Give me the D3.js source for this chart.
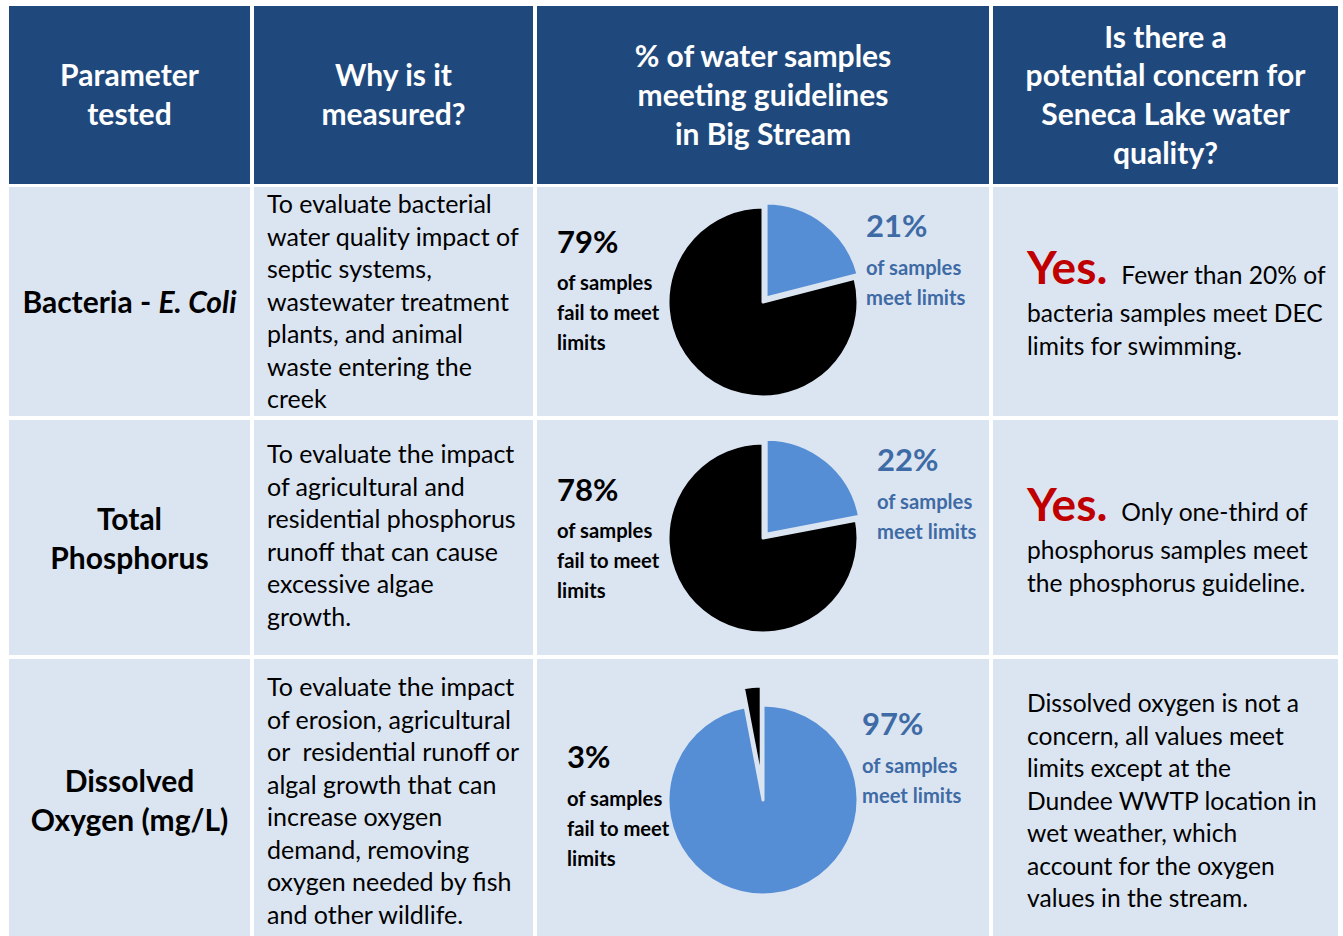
<!DOCTYPE html>
<html>
<head>
<meta charset="utf-8">
<script src="https://cdn.jsdelivr.net/npm/d3@7"></script>
<style>
  html, body { margin: 0; padding: 0; background: #fff; }
  svg { display: block; font-family: Lato, "Open Sans", sans-serif; }
  text { white-space: pre; }
</style>
</head>
<body>
<svg id="chart" width="1343" height="936"></svg>
<script>
// ---- data ----
const headers = [
    ["Parameter", "tested"],
    ["Why is it", "measured?"],
    ["% of water samples", "meeting guidelines", "in Big Stream"],
    ["Is there a", "potential concern for", "Seneca Lake water", "quality?"]
];
const parameters = [
    [[{t: "Bacteria - "}, {t: "E. Coli", it: true}]],
    [[{t: "Total"}], [{t: "Phosphorus"}]],
    [[{t: "Dissolved"}], [{t: "Oxygen (mg/L)"}]]
];
const reasons = [
    ["To evaluate bacterial", "water quality impact of", "septic systems,",
     "wastewater treatment", "plants, and animal", "waste entering the", "creek"],
    ["To evaluate the impact", "of agricultural and", "residential phosphorus",
     "runoff that can cause", "excessive algae", "growth."],
    ["To evaluate the impact", "of erosion, agricultural", "or  residential runoff or",
     "algal growth that can", "increase oxygen", "demand, removing",
     "oxygen needed by fish", "and other wildlife."]
];
const meetPct = [21, 22, 97];
const failPct = [79, 78, 3];
const verdicts = ["Yes.", "Yes.", ""];
const concerns = [
    ["Fewer than 20% of", "bacteria samples meet DEC", "limits for swimming."],
    ["Only one-third of", "phosphorus samples meet", "the phosphorus guideline."],
    ["Dissolved oxygen is not a", "concern, all values meet", "limits except at the",
     "Dundee WWTP location in", "wet weather, which", "account for the oxygen",
     "values in the stream."]
];

// ---- layout ----
const cols = [[9, 250], [254, 533], [537, 989], [993, 1338]];
const rows = [[6, 184], [187, 416], [420, 655], [659, 940]];
const headBg = "#1F497D", cellBg = "#DBE5F1";
const blue = "#558ED5", blueText = "#3E6BA5", red = "#C00000";
const bodySize = 25, noteSize = 24.6, headSize = 30;

const svg = d3.select("#chart");

// cells
rows.forEach((r, ri) => {
    cols.forEach((c, ci) => {
        svg.append("rect")
            .attr("x", c[0]).attr("y", r[0])
            .attr("width", c[1] - c[0]).attr("height", r[1] - r[0])
            .attr("fill", ri === 0 ? headBg : cellBg);
    });
});

// header text
const headBase = [[86, 125], [86, 125], [67, 106, 145], [48, 86, 125, 164]];
headers.forEach((lines, ci) => {
    const cx = (cols[ci][0] + cols[ci][1]) / 2;
    svg.append("g").selectAll("text")
        .data(lines)
        .join("text")
        .attr("x", cx)
        .attr("y", (d, i) => headBase[ci][i])
        .attr("text-anchor", "middle")
        .attr("fill", "#fff")
        .attr("font-weight", 700)
        .attr("font-size", headSize)
        .text(d => d);
});

// parameter names
const paramBase = [[313], [530, 569], [792, 831]];
parameters.forEach((lines, ri) => {
    const cx = (cols[0][0] + cols[0][1]) / 2;
    lines.forEach((parts, li) => {
        const t = svg.append("text")
            .attr("x", cx).attr("y", paramBase[ri][li])
            .attr("text-anchor", "middle")
            .attr("font-weight", 700)
            .attr("font-size", headSize)
            .attr("fill", "#000");
        parts.forEach(p => {
            t.append("tspan")
                .attr("font-style", p.it ? "italic" : null)
                .text(p.t);
        });
    });
});

// reasons
const reasonTop = [213, 463, 696];
reasons.forEach((lines, ri) => {
    svg.append("g").selectAll("text")
        .data(lines)
        .join("text")
        .attr("x", 267)
        .attr("y", (d, i) => reasonTop[ri] + i * 32.5)
        .attr("font-size", bodySize)
        .attr("fill", "#000")
        .text(d => d);
});

// pies
const pieCenters = [[763, 302], [763, 538], [763, 800]];
const explodeBy = [5, 5, 19];
const radius = 95;
const pie = d3.pie().sort(null).value(d => d.v);
const arc = d3.arc().innerRadius(0).outerRadius(radius);

meetPct.forEach((m, ri) => {
    const slices = pie([{k: "meet", v: m}, {k: "fail", v: failPct[ri]}]);
    const g = svg.append("g")
        .attr("transform", `translate(${pieCenters[ri][0]},${pieCenters[ri][1]})`);
    const small = m < failPct[ri] ? "meet" : "fail";
    g.selectAll("path")
        .data(slices)
        .join("path")
        .attr("d", arc)
        .attr("fill", d => d.data.k === "meet" ? blue : "#000")
        .attr("stroke", cellBg)
        .attr("stroke-width", 3)
        .attr("stroke-linejoin", "round")
        .attr("transform", d => {
            if (d.data.k !== small) return null;
            const a = (d.startAngle + d.endAngle) / 2;
            return `translate(${Math.sin(a) * explodeBy[ri]},${-Math.cos(a) * explodeBy[ri]})`;
        });
});

// pie labels
const failLabelPos = [[557, 253], [557, 501], [567, 768]];
const meetLabelPos = [[866, 237], [877, 471], [862, 735]];
const subGap = [37, 37, 38];

function pieLabel(pos, pct, lines, color, gap) {
    svg.append("text")
        .attr("x", pos[0]).attr("y", pos[1])
        .attr("font-weight", 700).attr("font-size", 31)
        .attr("fill", color)
        .text(pct + "%");
    svg.append("g").selectAll("text")
        .data(lines)
        .join("text")
        .attr("x", pos[0])
        .attr("y", (d, i) => pos[1] + gap + i * 30)
        .attr("font-weight", 700).attr("font-size", 20.2)
        .attr("fill", color)
        .text(d => d);
}
failPct.forEach((f, ri) => {
    pieLabel(failLabelPos[ri], f, ["of samples", "fail to meet", "limits"], "#000", subGap[ri]);
    pieLabel(meetLabelPos[ri], meetPct[ri], ["of samples", "meet limits"], blueText, 38);
});

// concern column
const concernTop = [284, 521, 712];
concerns.forEach((lines, ri) => {
    const x0 = 1027;
    if (verdicts[ri]) {
        const first = svg.append("text")
            .attr("x", x0).attr("y", concernTop[ri]);
        first.append("tspan")
            .attr("font-weight", 700).attr("font-size", 46)
            .attr("fill", red)
            .text(verdicts[ri]);
        first.append("tspan")
            .attr("dx", 14)
            .attr("font-size", noteSize).attr("fill", "#000")
            .text(lines[0]);
        svg.append("g").selectAll("text")
            .data(lines.slice(1))
            .join("text")
            .attr("x", x0)
            .attr("y", (d, i) => concernTop[ri] + 38 + i * 32.5)
            .attr("font-size", noteSize).attr("fill", "#000")
            .text(d => d);
    } else {
        svg.append("g").selectAll("text")
            .data(lines)
            .join("text")
            .attr("x", x0)
            .attr("y", (d, i) => concernTop[ri] + i * 32.5)
            .attr("font-size", noteSize).attr("fill", "#000")
            .text(d => d);
    }
});
</script>
</body>
</html>
